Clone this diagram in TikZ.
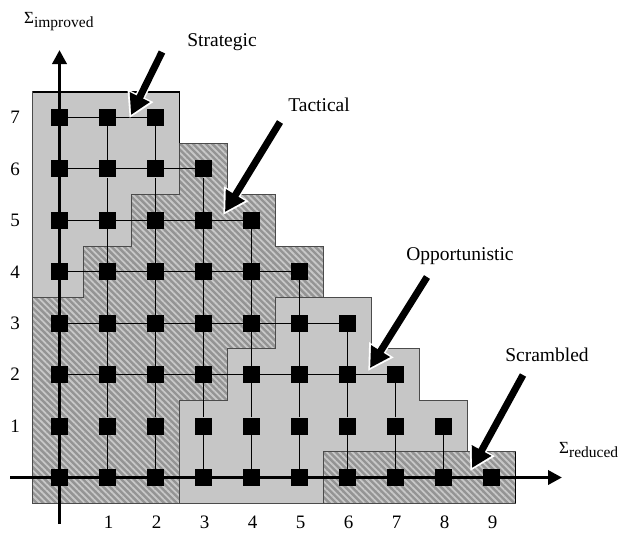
\documentclass[tikz,border=0pt]{standalone}
\usepackage{fontspec}
\setmainfont{Liberation Serif}
\usetikzlibrary{arrows.meta,patterns.meta}
\definecolor{hatchbase}{RGB}{148,148,148}
\definecolor{hatchline}{RGB}{200,200,200}
\definecolor{lightreg}{RGB}{198,198,198}
\definecolor{edgegray}{RGB}{75,75,75}
\tikzset{
  hatched/.style={fill=hatchbase, postaction={pattern={Lines[angle=-45,distance=4.5pt,line width=1.8pt]}, pattern color=hatchline}},
  lightfill/.style={fill=lightreg},
  regedge/.style={draw=edgegray, line width=1pt, line join=miter},
  sq/.style={fill=black, draw=none, minimum size=17pt, inner sep=0pt},
  gridline/.style={line width=1pt, black},
  axisline/.style={line width=3.6pt, black, -{Triangle[length=14pt,width=14pt]}},
  halo/.style={line width=10pt, white, -{Triangle[length=25pt,width=27pt]}, shorten >=-3.5pt},
  bigarrow/.style={line width=7pt, black, -{Triangle[length=20pt,width=21pt]}},
  lab/.style={inner sep=0pt, font=\fontsize{19.5}{22}\selectfont},
  num/.style={inner sep=0pt, font=\fontsize{19}{22}\selectfont}
}
\begin{document}
\begin{tikzpicture}[x=1pt,y=-1pt]
\useasboundingbox (0,0) rectangle (619,533);
\begin{scope}[shift={(59.5,477.5)}, x=48pt, y=51.43pt]
  % regions
  \path[hatched] (-0.56,3.5) -- (0.5,3.5) -- (0.5,4.5) -- (1.5,4.5) -- (1.5,5.5) -- (2.5,5.5) -- (2.5,6.5) -- (3.5,6.5) -- (3.5,5.5) -- (4.5,5.5) -- (4.5,4.5) -- (5.5,4.5) -- (5.5,3.5) -- (4.5,3.5) -- (4.5,2.5) -- (3.5,2.5) -- (3.5,1.5) -- (2.5,1.5) -- (2.5,-0.5) -- (-0.56,-0.5) -- cycle;
  \path[lightfill] (2.5,-0.5) -- (2.5,1.5) -- (3.5,1.5) -- (3.5,2.5) -- (4.5,2.5) -- (4.5,3.5) -- (6.5,3.5) -- (6.5,2.5) -- (7.5,2.5) -- (7.5,1.5) -- (8.5,1.5) -- (8.5,0.5) -- (5.5,0.5) -- (5.5,-0.5) -- cycle;
  \path[lightfill] (-0.56,7.5) -- (2.5,7.5) -- (2.5,5.5) -- (1.5,5.5) -- (1.5,4.5) -- (0.5,4.5) -- (0.5,3.5) -- (-0.56,3.5) -- cycle;
  \path[hatched] (5.5,-0.5) rectangle (9.5,0.5);
  % region outlines
  \draw[regedge] (-0.56,3.5) -- (0.5,3.5) -- (0.5,4.5) -- (1.5,4.5) -- (1.5,5.5) -- (2.5,5.5) -- (2.5,6.5) -- (3.5,6.5) -- (3.5,5.5) -- (4.5,5.5) -- (4.5,4.5) -- (5.5,4.5) -- (5.5,3.5) -- (4.5,3.5) -- (4.5,2.5) -- (3.5,2.5) -- (3.5,1.5) -- (2.5,1.5) -- (2.5,-0.5) -- (-0.56,-0.5) -- cycle;
  \draw[regedge] (2.5,-0.5) -- (2.5,1.5) -- (3.5,1.5) -- (3.5,2.5) -- (4.5,2.5) -- (4.5,3.5) -- (6.5,3.5) -- (6.5,2.5) -- (7.5,2.5) -- (7.5,1.5) -- (8.5,1.5) -- (8.5,0.5) -- (5.5,0.5) -- (5.5,-0.5) -- cycle;
  \draw[regedge] (-0.56,7.5) -- (2.5,7.5) -- (2.5,5.5) -- (1.5,5.5) -- (1.5,4.5) -- (0.5,4.5) -- (0.5,3.5) -- (-0.56,3.5) -- cycle;
  \draw[black, line width=1.6pt, line join=miter] (-0.56,7.5) -- (2.5,7.5) -- (2.5,6.5);
  \draw[regedge, line width=1.4pt] (5.5,-0.5) rectangle (9.5,0.5);
  \draw[black, line width=1.8pt] (9.5,-0.5) -- (9.5,0.5);
  % grid nodes
  \foreach \j in {0,...,7} {
    \pgfmathtruncatemacro\m{9-\j}
    \foreach \i in {0,...,\m} {
      \node[sq] (n-\i-\j) at (\i,\j) {};
    }
  }
\end{scope}
% horizontal connections (rows 2 to 7)
\foreach \j in {2,...,7} {
  \pgfmathtruncatemacro\m{8-\j}
  \foreach \i in {0,...,\m} {
    \pgfmathtruncatemacro\ip{\i+1}
    \draw[gridline] (n-\i-\j) -- (n-\ip-\j);
  }
}
% vertical connections (columns 1 to 8)
\foreach \i in {1,...,8} {
  \pgfmathtruncatemacro\m{min(6,8-\i)}
  \foreach \j in {0,...,\m} {
    \pgfmathtruncatemacro\jp{\j+1}
    \draw[gridline] (n-\i-\j) -- (n-\i-\jp);
  }
}
% axes
\coordinate (yb) at (59.5,524);
\coordinate (yt) at (59.5,50);
\coordinate (xl) at (10,477.5);
\coordinate (xr) at (562,477.5);
\draw[axisline] (yb) -- (yt);
\draw[axisline] (xl) -- (xr);
% axis labels
\node[inner sep=0pt, anchor=base west] (ylabel) at (24,23) {\fontsize{17}{17}\selectfont Σ\raisebox{-4pt}{\fontsize{15.5}{15.5}\selectfont improved}};
\node[inner sep=0pt, anchor=base west] (xlabel) at (559,453) {\fontsize{17}{17}\selectfont Σ\raisebox{-4pt}{\fontsize{15.5}{15.5}\selectfont reduced}};
% tick numbers
\foreach \j in {1,...,7} {
  \node[num] (ynum-\j) at (15,{477.5-51.43*\j}) {\j};
}
\foreach \i in {1,...,9} {
  \node[num] (xnum-\i) at ({60.5+48*\i},522) {\i};
}
% category labels
\node[lab] (lStr) at (222,42) {Strategic};
\node[lab] (lTac) at (319,105) {Tactical};
\node[lab] (lOpp) at (460,256) {Opportunistic};
\node[lab] (lScr) at (547,355) {Scrambled};
% arrows
\coordinate (aS1) at (162,52);  \coordinate (aS2) at (131,115);
\coordinate (aT1) at (280,122); \coordinate (aT2) at (225,212);
\coordinate (aO1) at (427,277); \coordinate (aO2) at (370,368);
\coordinate (aC1) at (523,375); \coordinate (aC2) at (472,468);
\foreach \a in {S,T,O,C} {
  \draw[halo] (a\a1) -- (a\a2);
  \draw[bigarrow] (a\a1) -- (a\a2);
}
\end{tikzpicture}
\end{document}
